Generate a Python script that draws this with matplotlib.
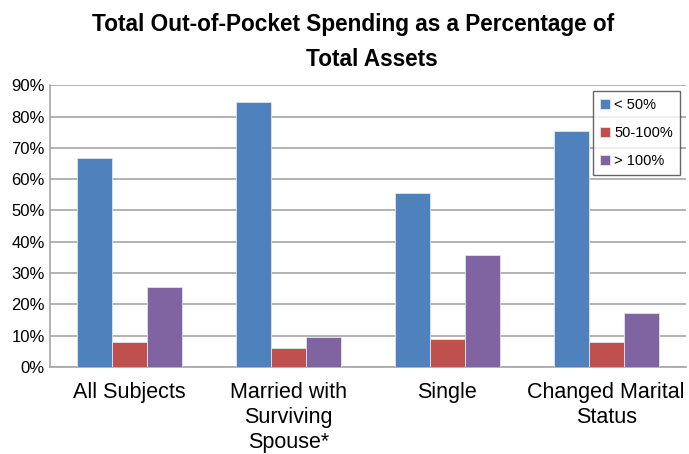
import numpy as np
import matplotlib.pyplot as plt
from matplotlib.ticker import PercentFormatter

plt.rcParams['font.family'] = ['Liberation Sans', 'DejaVu Sans']

categories = ['All Subjects', 'Married with\nSurviving\nSpouse*', 'Single', 'Changed Marital\nStatus']
series = ['< 50%', '50-100%', '> 100%']
low = [66.8, 84.6, 55.6, 75.5]
mid = [8.0, 6.1, 9.0, 7.9]
high = [25.6, 9.6, 35.6, 17.1]
colors = ['#4f81bd', '#c0504d', '#8064a2']

fig = plt.figure(figsize=(6.89, 4.54), dpi=100)
ax = fig.add_axes([0.073, 0.192, 0.922, 0.62])

x = np.arange(len(categories))
w = 0.22
for i, (vals, lab) in enumerate(zip([low, mid, high], series)):
    ax.bar(x + (i - 1) * w, vals, w, color=colors[i], label=lab, zorder=3,
           edgecolor='#dfe6f0', linewidth=0.6)

ax.set_xlim(-0.5, len(categories) - 0.5)
ax.set_ylim(0, 90)
ax.set_yticks(np.arange(0, 91, 10))
ax.yaxis.set_major_formatter(PercentFormatter(decimals=0))
ax.yaxis.grid(True, color='#a6a6a6', linewidth=1.2, zorder=0)
ax.set_xticks(x)
ax.set_xticklabels(categories, fontsize=15.5, linespacing=1.25, va='top')
ax.tick_params(axis='x', length=0, pad=11)
ax.tick_params(axis='y', length=0, labelsize=12, pad=4)
for s in ['top', 'right']:
    ax.spines[s].set_visible(False)
ax.spines['left'].set_color('#a6a6a6')
ax.spines['bottom'].set_color('#a6a6a6')
ax.spines['left'].set_linewidth(1.2)
ax.spines['bottom'].set_linewidth(1.2)

leg = ax.legend(loc='upper right', bbox_to_anchor=(0.992, 0.98), fontsize=10.5,
                frameon=True, fancybox=False, handlelength=0.7, handleheight=0.7,
                handletextpad=0.3, labelspacing=0.95, borderpad=0.5, borderaxespad=0)
leg.get_frame().set_edgecolor('#404040')
leg.get_frame().set_linewidth(1.0)

fig.text(0.512, 0.947, 'Total Out-of-Pocket Spending as a Percentage of',
         ha='center', va='center', fontsize=16.3, fontweight='bold')
fig.text(0.539, 0.868, 'Total Assets', ha='center', va='center',
         fontsize=16.3, fontweight='bold')

fig.savefig('out.png', dpi=100)
